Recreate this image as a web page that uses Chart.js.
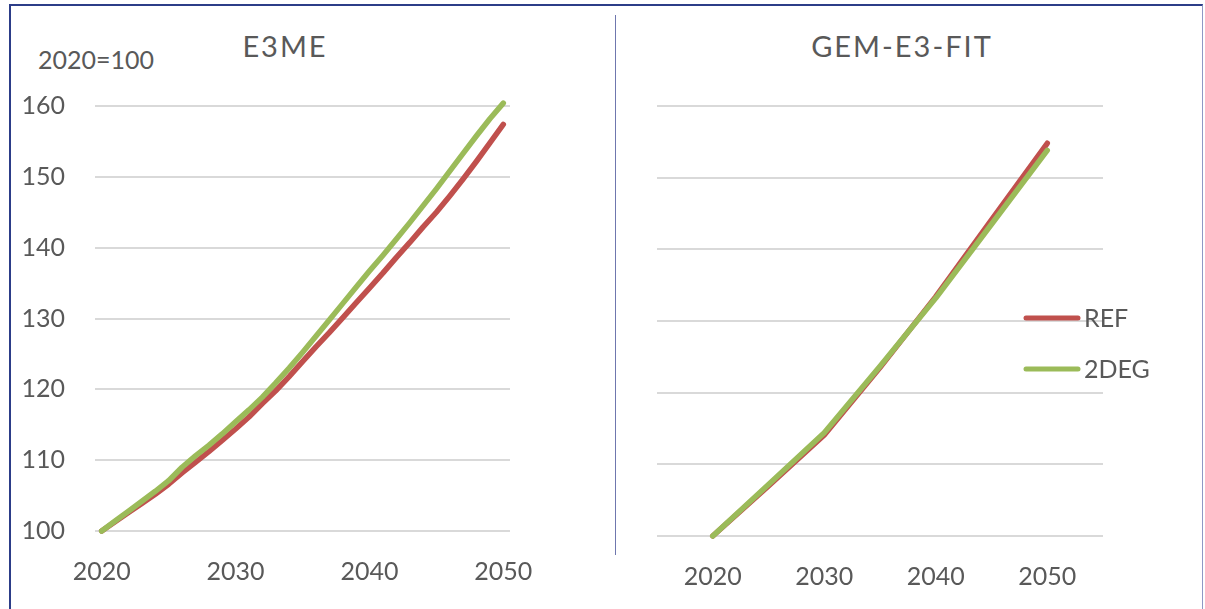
<!DOCTYPE html>
<html>
<head>
<meta charset="utf-8">
<title>GDP index: E3ME vs GEM-E3-FIT</title>
<script src="https://cdn.jsdelivr.net/npm/chart.js@4.4.1/dist/chart.umd.min.js"></script>
<style>
    html, body { margin: 0; padding: 0; background: #fff; }
    body {
        width: 1205px; height: 609px; position: relative; overflow: hidden;
        font-family: Lato, "Open Sans", sans-serif; color: #595959;
    }
    .frame {
        position: absolute; left: 9px; top: 4px; width: 1191px; height: 640px;
        border-left: 2px solid #2c3d88; border-top: 2px solid #2c3d88;
        border-right: 1px solid #8f98c4;
    }
    .divider { position: absolute; left: 615px; top: 15px; width: 1px; height: 540px; background: #6f77ae; }
    .title {
        position: absolute; font-size: 29px; letter-spacing: 2px; white-space: nowrap;
        transform: translate(-50%, -50%);
    }
    .unit { position: absolute; left: 38px; top: 59px; font-size: 25px; transform: translateY(-50%); }
    .panel { position: absolute; top: 0; height: 609px; }
</style>
</head>
<body>
<div class="frame"></div>
<div class="divider"></div>
<div class="title" style="left:285px; top:45px;">E3ME</div>
<div class="title" style="left:902px; top:45px;">GEM-E3-FIT</div>
<div class="unit">2020=100</div>
<div class="panel" style="left:0; width:612px;"><canvas id="e3me"></canvas></div>
<div class="panel" style="left:618px; width:587px;"><canvas id="gem"></canvas></div>

<script>
// Index values, 2020 = 100
const seriesNames = ['REF', '2DEG'];

const e3meYears = [2020, 2021, 2022, 2023, 2024, 2025, 2026, 2027, 2028, 2029,
                   2030, 2031, 2032, 2033, 2034, 2035, 2036, 2037, 2038, 2039,
                   2040, 2041, 2042, 2043, 2044, 2045, 2046, 2047, 2048, 2049, 2050];
const e3meRef = [100, 101.3, 102.6, 103.9, 105.2, 106.6, 108.2, 109.7, 111.2, 112.8,
                 114.4, 116.1, 118.0, 119.8, 121.8, 123.9, 126.0, 128.0, 130.1, 132.2,
                 134.3, 136.4, 138.6, 140.7, 142.9, 145.0, 147.3, 149.7, 152.2, 154.8, 157.4];
const e3me2deg = [100, 101.4, 102.8, 104.2, 105.6, 107.1, 109.0, 110.6, 112.1, 113.7,
                  115.4, 117.1, 118.9, 120.9, 123.0, 125.2, 127.5, 129.8, 132.1, 134.4,
                  136.7, 138.9, 141.2, 143.5, 145.9, 148.3, 150.8, 153.3, 155.8, 158.2, 160.4];

const gemYears = [2020, 2025, 2030, 2035, 2040, 2045, 2050];
const gemRef = [100, 107.0, 114.1, 123.5, 133.4, 144.1, 154.8];
const gem2deg = [100, 107.2, 114.4, 123.7, 133.2, 143.5, 153.8];

const yTicks = [100, 110, 120, 130, 140, 150, 160];
const xTicks = [2020, 2030, 2040, 2050];

const RED = '#c0504d';
const GREEN = '#9bbb59';
const TEXT = '#595959';
const FONT = { family: 'Lato, "Open Sans", sans-serif', size: 25 };
const X_AXIS_HEIGHT = 70;

// Legend drawn inside the plot, to the right of the lines
const sideLegend = {
    id: 'sideLegend',
    afterDatasetsDraw(chart, args, opts) {
        if (!opts.show) return;
        const { ctx, chartArea } = chart;
        ctx.save();
        chart.data.datasets.forEach((ds, i) => {
            const y = chartArea.top + opts.top + i * opts.gap;
            const x = chartArea.right + opts.offset;
            ctx.strokeStyle = ds.borderColor;
            ctx.lineWidth = 5;
            ctx.lineCap = 'round';
            ctx.beginPath();
            ctx.moveTo(x, y);
            ctx.lineTo(x + 52, y);
            ctx.stroke();
            ctx.fillStyle = TEXT;
            ctx.font = `${FONT.size}px ${FONT.family}`;
            ctx.textBaseline = 'middle';
            ctx.fillText(ds.label, x + 58, y + 1);
        });
        ctx.restore();
    }
};

function toPoints(years, values) {
    return years.map((year, i) => ({ x: year, y: values[i] }));
}

function buildChart(id, cfg) {
    const lineStyle = {
        borderWidth: 5.5, pointRadius: 0, tension: 0, fill: false, clip: false,
        borderCapStyle: 'round', borderJoinStyle: 'round'
    };

    return new Chart(document.getElementById(id), {
        type: 'line',
        data: {
            datasets: [
                { label: seriesNames[0], data: toPoints(cfg.years, cfg.ref), borderColor: RED, order: 1, ...lineStyle },
                { label: seriesNames[1], data: toPoints(cfg.years, cfg.deg), borderColor: GREEN, order: 0, ...lineStyle }
            ]
        },
        options: {
            responsive: true,
            maintainAspectRatio: false,
            animation: false,
            layout: {
                padding: {
                    left: 0,
                    top: cfg.area.top,
                    right: cfg.width - cfg.area.right,
                    bottom: 609 - cfg.area.bottom - X_AXIS_HEIGHT
                }
            },
            plugins: {
                legend: { display: false },
                tooltip: { enabled: false },
                sideLegend: cfg.legend || { show: false }
            },
            scales: {
                x: {
                    type: 'linear',
                    min: cfg.xMin,
                    max: cfg.xMax,
                    grid: { display: false },
                    border: { display: false },
                    afterBuildTicks: (scale) => { scale.ticks = xTicks.map(v => ({ value: v })); },
                    afterFit: (scale) => { scale.height = X_AXIS_HEIGHT; },
                    ticks: { color: TEXT, font: FONT, padding: 18, maxRotation: 0, callback: (v) => String(v) }
                },
                y: {
                    min: 100,
                    max: 160,
                    border: { display: false },
                    grid: { color: '#d9d9d9', lineWidth: 2, drawTicks: false },
                    afterBuildTicks: (scale) => { scale.ticks = yTicks.map(v => ({ value: v })); },
                    afterFit: (scale) => { scale.width = cfg.area.left; },
                    ticks: { display: cfg.yLabels, color: TEXT, font: FONT, padding: 30 }
                }
            }
        },
        plugins: [sideLegend]
    });
}

buildChart('e3me', {
    years: e3meYears, ref: e3meRef, deg: e3me2deg,
    xMin: 2019.5, xMax: 2050.5, yLabels: true, width: 612,
    area: { left: 95, right: 510, top: 106, bottom: 531 }
});

buildChart('gem', {
    years: gemYears, ref: gemRef, deg: gem2deg,
    xMin: 2015, xMax: 2055, yLabels: false, width: 587,
    area: { left: 39, right: 485, top: 106, bottom: 536 },
    legend: { show: true, offset: -77, top: 212, gap: 51 }
});
</script>
</body>
</html>
